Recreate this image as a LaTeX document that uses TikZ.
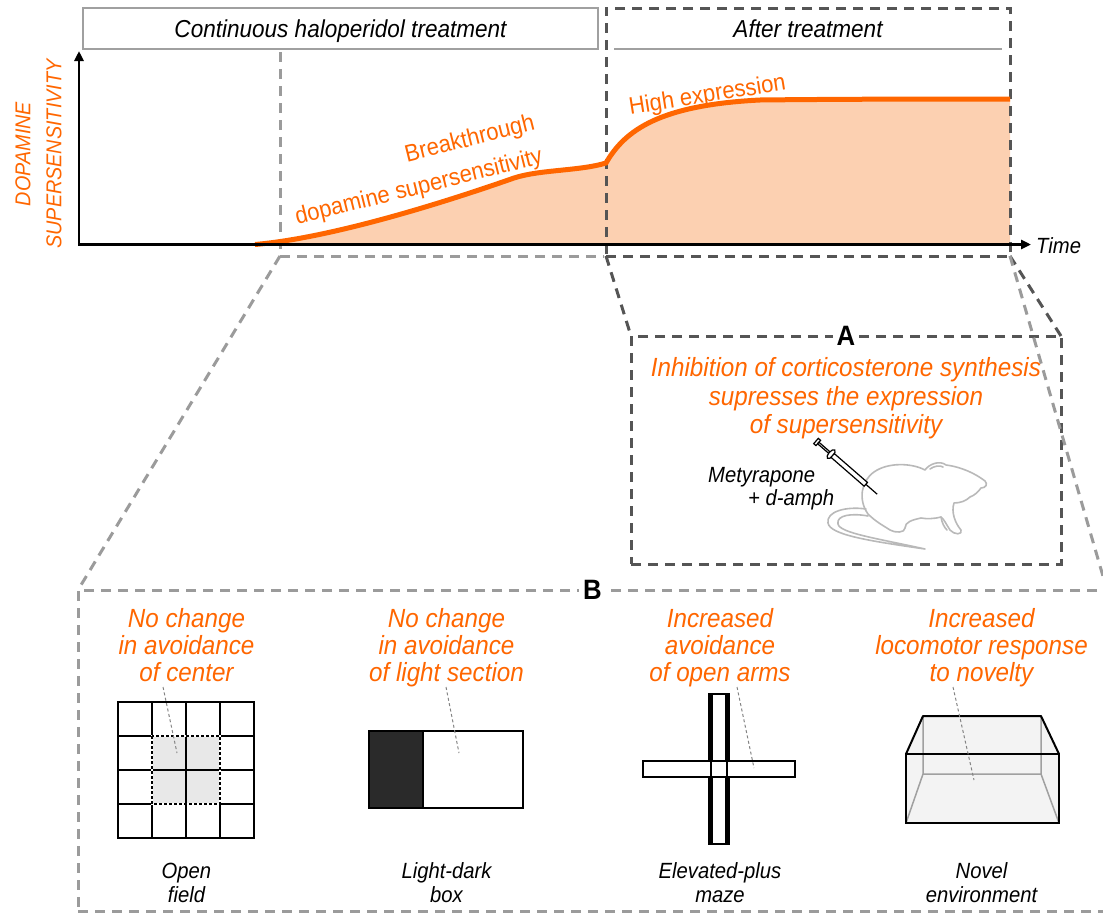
\documentclass[tikz,border=0pt]{standalone}
\usepackage{fontspec}
\setmainfont{Liberation Sans}[FakeStretch=0.92]
\usetikzlibrary{arrows.meta,calc}

\definecolor{curveorange}{RGB}{255,102,0}
\definecolor{curvefill}{RGB}{252,208,177}
\definecolor{darkdash}{RGB}{85,85,85}
\definecolor{lightdash}{RGB}{155,155,155}
\definecolor{framegray}{RGB}{160,160,160}
\definecolor{ratgray}{RGB}{185,185,185}
\definecolor{cellgray}{RGB}{232,232,232}
\definecolor{darkroom}{RGB}{42,42,42}
\definecolor{arenafill}{RGB}{243,243,243}

\newcommand{\setfs}[2]{\fontsize{#1}{#2}\selectfont}

\begin{document}
\begin{tikzpicture}[x=1pt,y=-1pt,
  darkdashed/.style={draw=darkdash,line width=3pt,dash pattern=on 10pt off 7pt},
  lightdashed/.style={draw=lightdash,line width=3pt,dash pattern=on 10pt off 7pt},
  plainbox/.style={rectangle,inner sep=0pt,outer sep=0pt},
  headtext/.style={font=\setfs{24.5}{29}\itshape,text depth=0pt,inner sep=0pt},
  finding/.style={font=\setfs{26.3}{27.3}\itshape,text=curveorange,align=center,inner sep=0pt,anchor=north},
  testname/.style={font=\setfs{22}{24}\itshape,align=center,inner sep=0pt,anchor=north},
  curvelabel/.style={font=\setfs{24}{28},text=curveorange,inner sep=0pt},
  panelletter/.style={font=\setfs{28}{32}\bfseries,fill=white,inner sep=4pt},
  leader/.style={draw=lightdash!85!black,line width=1pt,dash pattern=on 3pt off 2.5pt},
  ratline/.style={draw=ratgray,line width=1.6pt,line join=round,line cap=round},
  ]
\useasboundingbox (0,0) rectangle (1103,913);
\clip (0,0) rectangle (1103,913);

% ---------- time course ----------
\coordinate (origin) at (79,244.5);
\coordinate (ytip) at (79,51);
\coordinate (xtip) at (1031,244.5);

% area under the supersensitivity curve
\fill[curvefill] (255,244.5)
  .. controls (330,238) and (440,204) .. (514,178)
  .. controls (540,169.5) and (580,171) .. (606,163)
  .. controls (625,130) and (660,105) .. (760,100)
  .. controls (850,99) and (950,99) .. (1010,99)
  -- (1010,244.5) -- cycle;

% treatment period header
\node[plainbox,draw=framegray,line width=2pt,fill=white,minimum width=515pt,minimum height=41pt,
      font=\setfs{24.5}{29}\itshape,text depth=0pt] (treat) at (340.5,28.5) {Continuous haloperidol treatment};

% period selected for panel B
\coordinate (gtop) at (280,52);
\coordinate (gcorner) at (280,256);

% after-treatment period
\node[plainbox,darkdashed,minimum width=404pt,minimum height=248pt] (after) at (808,132) {};
\node[headtext] (aftertitle) at (808,28.5) {After treatment};
\draw[framegray,line width=2pt] (614,49) -- (1002,49);

\draw[lightdashed] (gtop) -- (gcorner) -- ([xshift=-2pt]after.south west);

% curve
\draw[curveorange,line width=5pt] (255,244.5)
  .. controls (330,238) and (440,204) .. (514,178)
  .. controls (540,169.5) and (580,171) .. (606,163)
  .. controls (625,130) and (660,105) .. (760,100)
  .. controls (850,99) and (950,99) .. (1010,99);

% axes
\draw[line width=2.5pt,{Triangle[length=10pt,width=9pt]}-{Triangle[length=10pt,width=9pt]}]
  (ytip) -- (origin) -- (xtip);
\node[font=\setfs{22}{24}\itshape,anchor=base west,inner sep=0pt] (time) at (1036,253) {Time};
\node[font=\setfs{21.5}{31}\itshape,text=curveorange,align=center,rotate=90,inner sep=0pt] (ylab)
  at (38.5,154) {DOPAMINE\\SUPERSENSITIVITY};

\node[curvelabel,rotate=14] (brk1) at (470,140) {Breakthrough};
\node[curvelabel,rotate=14] (brk2) at (419,188) {dopamine supersensitivity};
\node[curvelabel,rotate=9] (high) at (707.5,96) {High expression};

% ---------- panel A ----------
\node[plainbox,darkdashed,minimum width=430pt,minimum height=228pt] (boxA) at (846,450) {};
% ---------- panel B ----------
\node[plainbox,lightdashed,minimum width=1029pt,minimum height=321pt] (boxB) at (592.5,750.5) {};

% zoom connectors
\draw[darkdashed] (after.south west) -- (boxA.north west);
\draw[darkdashed] (after.south east) -- (boxA.north east);
\draw[lightdashed] (gcorner) -- (boxB.north west);
\draw[lightdashed] (after.south east) -- (boxB.north east);

\node[panelletter] (labA) at (boxA.north) {A};
\node[panelletter] (labB) at (boxB.north) {B};

\node[font=\setfs{26.3}{28.3}\itshape,text=curveorange,align=center,inner sep=0pt,anchor=north] (claimA)
  at (846,356.9) {\strut Inhibition of corticosterone synthesis\\supresses the expression\\of supersensitivity};
\node[font=\setfs{22}{23.5}\itshape,align=left,inner sep=0pt,anchor=north west] (drug)
  at (708,465.5) {\strut Metyrapone\\\hspace*{40pt}+ d-amph};

% rat
\draw[ratline] (868,514)
  .. controls (858,500) and (861,481) .. (874,472)
  .. controls (888,462) and (912,463) .. (925,470)
  .. controls (929,464) and (940,460) .. (946,465)
  .. controls (962,467) and (976,474) .. (985,481)
  .. controls (988,484) and (986,488) .. (981,488)
  .. controls (978,492) and (975,495) .. (970,497)
  .. controls (966,501) and (960,503) .. (954,503)
  .. controls (951,512) and (955,523) .. (961,530)
  .. controls (963,535) and (954,535) .. (950,530)
  .. controls (946,524) and (944,519) .. (941,517)
  .. controls (933,519) and (927,519) .. (921,518)
  .. controls (912,520) and (905,522) .. (905,528)
  .. controls (905,533) and (895,533) .. (890,530)
  .. controls (884,526) and (876,522) .. (868,514);
\draw[ratline] (930,469) .. controls (934,466) and (940,465) .. (943,467);
\draw[ratline] (941,517) .. controls (942,523) and (944,527) .. (947,530);
\draw[ratline] (866,509)
  .. controls (845,506) and (826,512) .. (828,523)
  .. controls (830,535) and (870,541) .. (925,549)
  .. controls (875,538) and (840,533) .. (838,524)
  .. controls (836,515) and (852,513) .. (868,516);

% syringe
\begin{scope}[shift={(816,441)},rotate=-41,line width=1.2pt]
  \draw[fill=white] (0,-3.5) rectangle (3,3.5);
  \draw[fill=white] (3,-1) rectangle (18,1);
  \draw[fill=white] (20,0) ellipse [x radius=2.5pt,y radius=5.5pt];
  \draw[fill=white] (22,-2.5) rectangle (66,2.5);
  \draw (66,0) -- (81,0);
\end{scope}

% ---------- panel B findings ----------
\node[finding] (f1) at (186.5,607.7) {\strut No change\\in avoidance\\of center};
\node[finding] (f2) at (446.5,607.7) {\strut No change\\in avoidance\\of light section};
\node[finding] (f3) at (720,607.7) {\strut Increased\\avoidance\\of open arms};
\node[finding] (f4) at (981.5,607.7) {\strut Increased\\locomotor response\\to novelty};

\node[testname] (t1) at (186.5,861) {\strut Open\\field};
\node[testname] (t2) at (446.5,861) {\strut Light-dark\\box};
\node[testname] (t3) at (720,861) {\strut Elevated-plus\\maze};
\node[testname] (t4) at (981.5,861) {\strut Novel\\environment};

% open field
\fill[cellgray] (152,736) rectangle (220,804);
\foreach \i in {0,...,4} {
  \draw[line width=2pt] (118+34*\i,702) -- ++(0,136);
  \draw[line width=2pt] (117,702+34*\i) -- ++(138,0);
}
\draw[white,line width=2.6pt] (152,736) rectangle (220,804);
\draw[line width=1.2pt,dash pattern=on 3pt off 2pt] (152,736) rectangle (220,804);

% light-dark box
\fill[white] (369,731) rectangle (523,808);
\fill[darkroom] (369,731) rectangle (423,808);
\draw[line width=2pt] (369,731) rectangle (523,808);
\draw[line width=2pt] (423,731) -- (423,808);

% elevated plus maze
\draw[line width=1.5pt,fill=white] (709,694) rectangle (729,844);
\draw[line width=1.5pt,fill=white] (643,761) rectangle (795,777);
\draw[line width=4pt] (711,694) -- (711,761) (727,694) -- (727,761)
                      (711,777) -- (711,844) (727,777) -- (727,844);
\draw[line width=1.5pt] (711,761) -- (711,777) (727,761) -- (727,777);

% novel environment
\fill[arenafill] (923,716) -- (1041,716) -- (1059,754) -- (1059,823) -- (906,823) -- (906,754) -- cycle;
\draw[framegray,line width=1.5pt] (923,716) -- (923,774) -- (1041,774) -- (1041,716)
  (923,774) -- (906,823) (1041,774) -- (1059,823);
\draw[line width=2pt,line join=round] (906,754) -- (923,716) -- (1041,716) -- (1059,754);
\draw[line width=2pt] (906,754) rectangle (1059,823);

% leaders from findings to the apparatus
\coordinate (l1a) at (163,687); \coordinate (l1b) at (177,753);
\coordinate (l2a) at (446,687); \coordinate (l2b) at (459,753);
\coordinate (l3a) at (737,687); \coordinate (l3b) at (754,768);
\coordinate (l4a) at (953,687); \coordinate (l4b) at (974,780);
\draw[leader] (l1a) -- (l1b);
\draw[leader] (l2a) -- (l2b);
\draw[leader] (l3a) -- (l3b);
\draw[leader] (l4a) -- (l4b);
\end{tikzpicture}
\end{document}
